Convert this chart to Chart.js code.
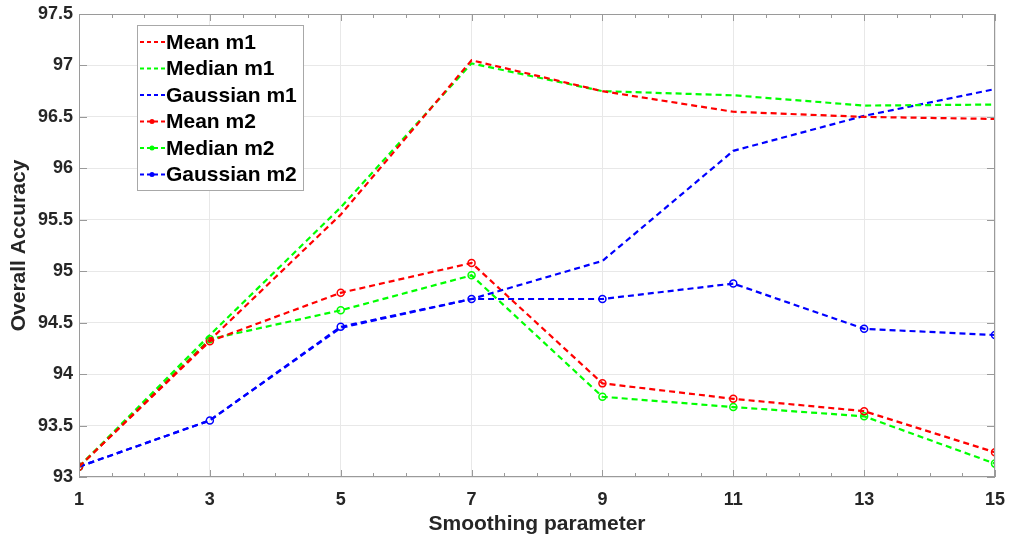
<!DOCTYPE html>
<html>
<head>
<meta charset="utf-8">
<script src="https://cdn.jsdelivr.net/npm/chart.js@4"></script>
<style>
  html, body { margin: 0; padding: 0; background: #fff; }
  canvas { display: block; }
</style>
</head>
<body>
<canvas id="accChart" width="1009" height="542"></canvas>
<script>
// smoothing parameter values (x axis)
const smoothing = [1, 3, 5, 7, 9, 11, 13, 15]

// overall accuracy per method
const meanM1 = [93.10, 94.33, 95.55, 97.05, 96.75, 96.55, 96.50, 96.48]
const medianM1 = [93.10, 94.38, 95.62, 97.02, 96.75, 96.71, 96.61, 96.62]
const gaussianM1 = [93.10, 93.55, 94.45, 94.73, 95.10, 96.17, 96.51, 96.77]
const meanM2 = [93.10, 94.32, 94.79, 95.08, 93.91, 93.76, 93.64, 93.24]
const medianM2 = [93.10, 94.34, 94.62, 94.96, 93.78, 93.68, 93.59, 93.13]
const gaussianM2 = [93.10, 93.55, 94.46, 94.73, 94.73, 94.88, 94.44, 94.38]

const yTicks = [93, 93.5, 94, 94.5, 95, 95.5, 96, 96.5, 97, 97.5]

const RED = '#ff0000'
const GREEN = '#00ff00'
const BLUE = '#0000ff'

function series(label, values, color, markers) {
  return {
    label: label,
    data: values.map((v, i) => ({ x: smoothing[i], y: v })),
    borderColor: color,
    backgroundColor: color,
    borderWidth: 2.2,
    borderDash: [6, 4],
    pointRadius: markers ? 3.5 : 0,
    pointBorderWidth: 1.5,
    pointBackgroundColor: 'rgba(255,255,255,0)',
    pointBorderColor: color,
    tension: 0,
    fill: false,
    showMarker: markers
  }
}

// inward tick marks, frame box and the in-plot legend
const matlabAxes = {
  id: 'matlabAxes',
  afterDraw(chart) {
    const ctx = chart.ctx
    const a = chart.chartArea
    const xs = chart.scales.x
    const ys = chart.scales.y
    ctx.save()
    ctx.strokeStyle = '#9a9a9a'
    ctx.lineWidth = 1
    ctx.strokeRect(a.left + 0.5, a.top + 0.5, a.right - a.left - 1, a.bottom - a.top - 1)

    ctx.beginPath()
    for (let v = 1; v <= 15.001; v += 0.5) {
      const px = Math.round(xs.getPixelForValue(v)) + 0.5
      const len = (v % 2 === 1) ? 7 : 4
      ctx.moveTo(px, a.bottom); ctx.lineTo(px, a.bottom - len)
      ctx.moveTo(px, a.top); ctx.lineTo(px, a.top + len)
    }
    yTicks.forEach(v => {
      const py = Math.round(ys.getPixelForValue(v)) + 0.5
      ctx.moveTo(a.left, py); ctx.lineTo(a.left + 8, py)
      ctx.moveTo(a.right, py); ctx.lineTo(a.right - 8, py)
    })
    ctx.stroke()

    // legend box
    const bx = 137, by = 25, bw = 166, bh = 165
    ctx.fillStyle = '#ffffff'
    ctx.fillRect(bx, by, bw, bh)
    ctx.strokeStyle = '#a8a8a8'
    ctx.strokeRect(bx + 0.5, by + 0.5, bw, bh)
    ctx.font = 'bold 21px "Liberation Sans", Arial, sans-serif'
    ctx.textBaseline = 'middle'
    chart.data.datasets.forEach((ds, i) => {
      const cy = 42 + i * 26.5
      ctx.strokeStyle = ds.borderColor
      ctx.lineWidth = 2
      ctx.setLineDash([4, 3])
      ctx.beginPath()
      ctx.moveTo(140, cy); ctx.lineTo(165, cy)
      ctx.stroke()
      ctx.setLineDash([])
      if (ds.showMarker) {
        ctx.fillStyle = ds.borderColor
        ctx.beginPath()
        ctx.arc(152, cy, 2.5, 0, Math.PI * 2)
        ctx.fill()
      }
      ctx.fillStyle = '#000000'
      ctx.fillText(ds.label, 166, cy + 1)
    })
    ctx.restore()
  }
}

const tickFont = { family: '"Liberation Sans", Arial, sans-serif', size: 18, weight: 'bold' }
const titleFont = { family: '"Liberation Sans", Arial, sans-serif', size: 21, weight: 'bold' }

new Chart(document.getElementById('accChart').getContext('2d'), {
  type: 'line',
  data: {
    datasets: [
      series('Mean m1', meanM1, RED, false),
      series('Median m1', medianM1, GREEN, false),
      series('Gaussian m1', gaussianM1, BLUE, false),
      series('Mean m2', meanM2, RED, true),
      series('Median m2', medianM2, GREEN, true),
      series('Gaussian m2', gaussianM2, BLUE, true)
    ]
  },
  options: {
    responsive: false,
    animation: false,
    devicePixelRatio: 1,
    layout: { padding: { top: 14, right: 14, left: 3, bottom: 1 } },
    plugins: {
      legend: { display: false },
      tooltip: { enabled: false }
    },
    scales: {
      x: {
        type: 'linear',
        min: 1,
        max: 15,
        ticks: { stepSize: 2, color: '#262626', font: tickFont, padding: 12 },
        grid: { color: '#e8e8e8', drawTicks: false },
        border: { display: false },
        title: { display: true, text: 'Smoothing parameter', color: '#262626', font: titleFont, padding: 4 },
        afterFit(scale) {
          scale.height = 64
          scale.paddingRight = 0
          scale.paddingLeft = 0
        }
      },
      y: {
        min: 93,
        max: 97.5,
        afterBuildTicks(scale) { scale.ticks = yTicks.map(v => ({ value: v })) },
        ticks: { color: '#262626', font: tickFont, padding: 6, callback: v => String(v) },
        grid: { color: '#e8e8e8', drawTicks: false },
        border: { display: false },
        title: { display: true, text: 'Overall Accuracy', color: '#262626', font: titleFont, padding: 4 },
        afterFit(scale) {
          scale.width = 76
          scale.paddingTop = 0
          scale.paddingBottom = 0
        }
      }
    }
  },
  plugins: [matlabAxes]
})
</script>
</body>
</html>
